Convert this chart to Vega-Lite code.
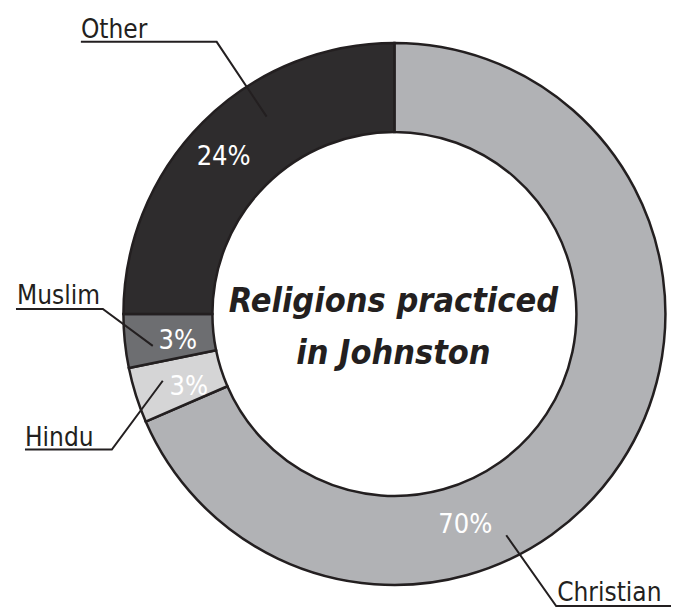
{
  "$schema": "https://vega.github.io/schema/vega-lite/v6.json",
  "width": 675,
  "height": 610,
  "autosize": {"type": "fit", "contains": "padding"},
  "padding": 0,
  "background": "white",
  "config": {"view": {"stroke": null}},
  "datasets": {
    "slices": [
      {"religion": "Christian", "idx": 1, "share": 68.5},
      {"religion": "Hindu", "idx": 2, "share": 3.3},
      {"religion": "Muslim", "idx": 3, "share": 3.2},
      {"religion": "Other", "idx": 4, "share": 25.0}
    ],
    "pct": [
      {"religion": "Other", "label": "24%", "x": -171, "y": 149},
      {"religion": "Muslim", "label": "3%", "x": -217, "y": -35},
      {"religion": "Hindu", "label": "3%", "x": -206, "y": -81},
      {"religion": "Christian", "label": "70%", "x": 71, "y": -220}
    ],
    "names": [
      {"religion": "Other", "x": -314, "y": 277},
      {"religion": "Muslim", "x": -378, "y": 10},
      {"religion": "Hindu", "x": -370, "y": -132},
      {"religion": "Christian", "x": 163, "y": -288}
    ],
    "leaders": [
      {"religion": "Other", "seq": 1, "x": -314, "y": 273},
      {"religion": "Other", "seq": 2, "x": -178, "y": 273},
      {"religion": "Other", "seq": 3, "x": -128, "y": 198},
      {"religion": "Muslim", "seq": 1, "x": -379, "y": 5},
      {"religion": "Muslim", "seq": 2, "x": -292, "y": 5},
      {"religion": "Muslim", "seq": 3, "x": -242, "y": -32},
      {"religion": "Hindu", "seq": 1, "x": -370, "y": -136},
      {"religion": "Hindu", "seq": 2, "x": -283, "y": -136},
      {"religion": "Hindu", "seq": 3, "x": -232, "y": -67},
      {"religion": "Christian", "seq": 1, "x": 277, "y": -293},
      {"religion": "Christian", "seq": 2, "x": 162, "y": -293},
      {"religion": "Christian", "seq": 3, "x": 112, "y": -222}
    ],
    "title": [
      {"line": "Religions practiced", "x": -1, "y": 2},
      {"line": "in Johnston", "x": -1, "y": -50}
    ]
  },
  "layer": [
    {
      "data": {"name": "slices"},
      "mark": {"type": "arc", "outerRadius": 271, "innerRadius": 182, "stroke": "#231f20", "strokeWidth": 2.5},
      "encoding": {
        "theta": {"field": "share", "type": "quantitative", "stack": true},
        "order": {"field": "idx", "type": "quantitative"},
        "color": {
          "field": "religion",
          "type": "nominal",
          "scale": {"domain": ["Christian", "Hindu", "Muslim", "Other"], "range": ["#b1b2b5", "#d5d5d6", "#6d6e71", "#2e2c2d"]},
          "legend": null
        },
        "x": {"datum": 0, "type": "quantitative", "scale": {"domain": [-395, 280], "nice": false, "zero": false}, "axis": null},
        "y": {"datum": 0, "type": "quantitative", "scale": {"domain": [-295, 315], "nice": false, "zero": false}, "axis": null}
      }
    },
    {
      "data": {"name": "leaders"},
      "mark": {"type": "line", "stroke": "#231f20", "strokeWidth": 2},
      "encoding": {
        "x": {"field": "x", "type": "quantitative"},
        "y": {"field": "y", "type": "quantitative"},
        "detail": {"field": "religion"},
        "order": {"field": "seq", "type": "quantitative"}
      }
    },
    {
      "data": {"name": "names"},
      "mark": {"type": "text", "align": "left", "baseline": "alphabetic", "font": "DejaVu Sans Condensed", "fontSize": 26, "color": "#231f20"},
      "encoding": {
        "x": {"field": "x", "type": "quantitative"},
        "y": {"field": "y", "type": "quantitative"},
        "text": {"field": "religion"}
      }
    },
    {
      "data": {"name": "pct"},
      "mark": {"type": "text", "align": "center", "baseline": "alphabetic", "font": "DejaVu Sans Condensed", "fontSize": 27, "color": "white"},
      "encoding": {
        "x": {"field": "x", "type": "quantitative"},
        "y": {"field": "y", "type": "quantitative"},
        "text": {"field": "label"}
      }
    },
    {
      "data": {"name": "title"},
      "mark": {"type": "text", "align": "center", "baseline": "alphabetic", "font": "DejaVu Sans Condensed", "fontSize": 34, "fontWeight": "bold", "fontStyle": "italic", "color": "#231f20"},
      "encoding": {
        "x": {"field": "x", "type": "quantitative"},
        "y": {"field": "y", "type": "quantitative"},
        "text": {"field": "line"}
      }
    }
  ]
}
